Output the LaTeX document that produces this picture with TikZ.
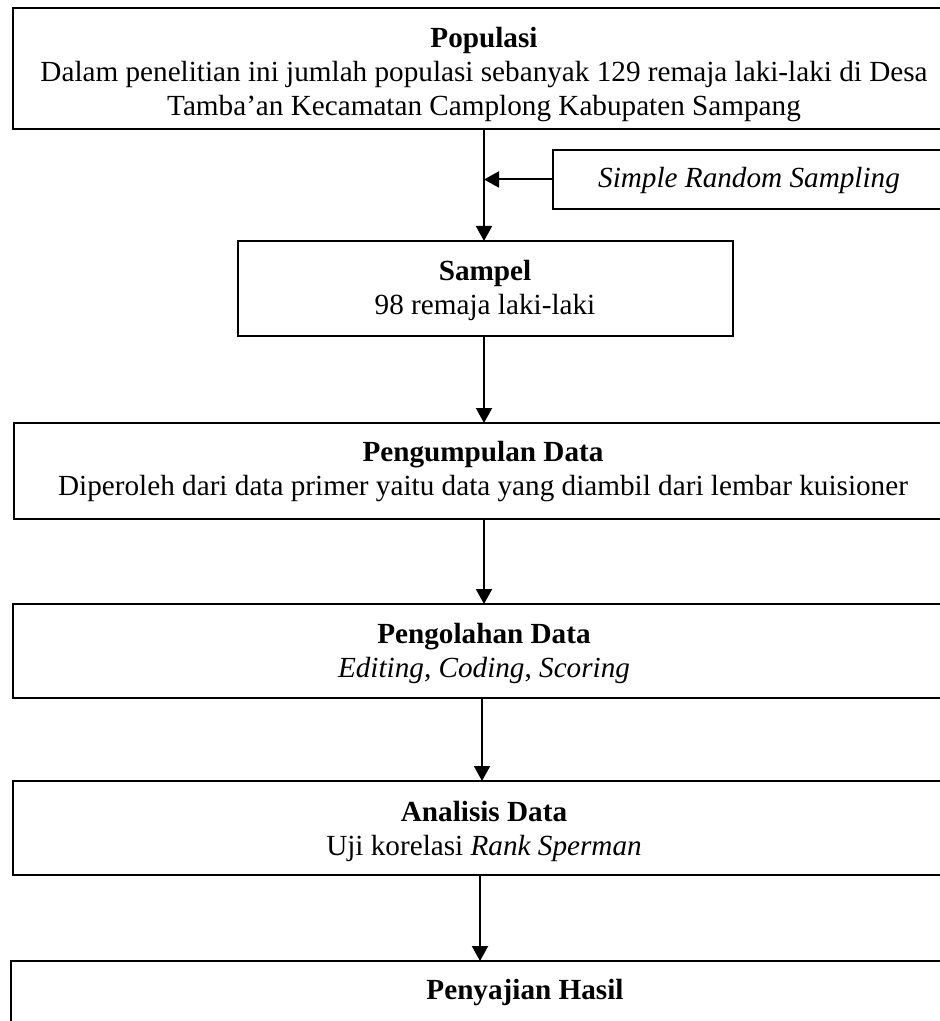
\documentclass[tikz,border=0pt]{standalone}
\usepackage{fontspec}
\setmainfont{Liberation Serif}
\usetikzlibrary{arrows.meta}
\tikzset{
  box/.style={draw, line width=1pt, inner sep=0pt, outer sep=0pt},
  txt/.style={inner sep=0pt, align=center, font=\fontsize{14.6}{17}\selectfont},
  flow/.style={draw, line width=1pt, -{Triangle[width=8pt,length=7.5pt]}}
}
\begin{document}
\begin{tikzpicture}[x=0.5pt,y=-0.5pt]
\useasboundingbox (0,0) rectangle (940,1021);
\clip (0,0) rectangle (940,1021);
% boxes
\node[box, minimum width=471pt, minimum height=60.5pt] (pop) at (484,68.5) {};
\node[box, minimum width=195pt, minimum height=29.5pt] (srs) at (748,179.5) {};
\node[box, minimum width=247.5pt, minimum height=47.5pt] (sampel) at (485.5,288.5) {};
\node[box, minimum width=470pt, minimum height=48pt] (kumpul) at (484,471) {};
\node[box, minimum width=471pt, minimum height=47pt] (olah) at (484,651) {};
\node[box, minimum width=471pt, minimum height=47pt] (analisis) at (484,828) {};
\node[box, minimum width=514pt, minimum height=46pt] (saji) at (525,1007) {};
% texts
\node[txt] (popt) at (484,74.5)
  {\textbf{Populasi}\\Dalam penelitian ini jumlah populasi sebanyak 129 remaja laki-laki di Desa\\Tamba'an Kecamatan Camplong Kabupaten Sampang};
\node[txt] (srst) at (749,180) {\textit{Simple Random Sampling}};
\node[txt] (sampelt) at (485,290.5) {\textbf{Sampel}\\98 remaja laki-laki};
\node[txt] (kumpult) at (483,472) {\textbf{Pengumpulan Data}\\Diperoleh dari data primer yaitu data yang diambil dari lembar kuisioner};
\node[txt] (olaht) at (484,653) {\textbf{Pengolahan Data}\\\textit{Editing, Coding}, \textit{Scoring}};
\node[txt] (analisist) at (484,831) {\textbf{Analisis Data}\\Uji korelasi \textit{Rank Sperman}};
\node[txt, anchor=center] (sajit) at (525,993) {\textbf{Penyajian Hasil}};
% connectors
\draw[flow] (pop.south) -- (pop.south |- sampel.north);
\draw[flow] (srs.west) -- (srs.west -| pop.south);
\draw[flow] (kumpul.north |- sampel.south) -- (kumpul.north);
\draw[flow] (kumpul.south) -- (olah.north);
\draw[flow] ([xshift=-1pt]olah.south) -- ([xshift=-1pt]analisis.north);
\draw[flow] ([xshift=-2pt]analisis.south) -- ([xshift=-2pt]analisis.south |- saji.north);
\end{tikzpicture}
\end{document}
